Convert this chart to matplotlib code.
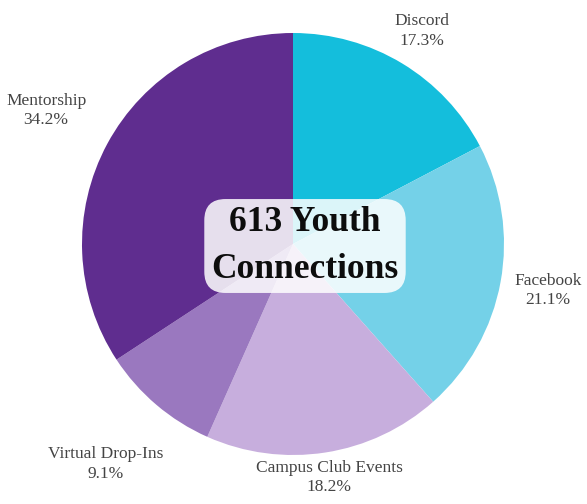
import numpy as np
import matplotlib.pyplot as plt

# Data
categories = ["Discord", "Facebook", "Campus Club Events", "Virtual Drop-Ins", "Mentorship"]
shares = [17.3, 21.1, 18.2, 9.1, 34.2]
colors = ["#14BEDC", "#74D1E8", "#C7AEDD", "#9A78BF", "#5F2D8F"]
# how far out each label sits, in pie radii
label_dist = [1.18, 1.23, 1.12, 1.37, 1.33]
center_text = "613 Youth\nConnections"

W, H = 587, 504
fig = plt.figure(figsize=(W / 100, H / 100), dpi=100)
ax = fig.add_axes([0, 0, 1, 1])

cx, cy, R = 293, H - 244, 211

ax.pie(shares, colors=colors, startangle=90, counterclock=False,
       center=(cx, cy), radius=R, frame=True,
       wedgeprops=dict(linewidth=0))
ax.set_xlim(0, W)
ax.set_ylim(0, H)
ax.set_aspect("equal")
ax.axis("off")

# outside labels placed at each slice's mid angle
total = sum(shares)
cum = 0.0
for name, val, d in zip(categories, shares, label_dist):
    mid = 90 - (cum + val / 2) / total * 360
    cum += val
    a = np.deg2rad(mid)
    x = cx + d * R * np.cos(a)
    y = cy + d * R * np.sin(a)
    ax.text(x, y, f"{name}\n{val:.1f}%", ha="center", va="center",
            fontsize=12.5, color="#444444", family="Liberation Serif",
            linespacing=1.3)

ax.text(cx + 12, cy - 2, center_text, ha="center", va="center",
        fontsize=25.5, fontweight="bold", color="#0d0d0d",
        family="Liberation Serif", linespacing=1.55,
        bbox=dict(boxstyle="round,pad=0.2,rounding_size=0.6",
                  facecolor="white", edgecolor="none", alpha=0.85))

fig.savefig("out.png", dpi=100)
